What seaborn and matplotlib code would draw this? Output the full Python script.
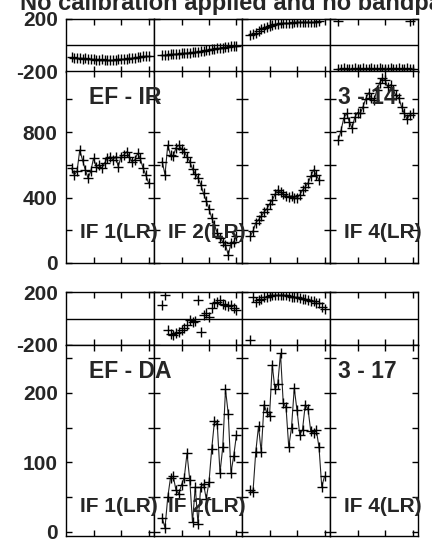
# baseline (no calibration) amplitude / phase per IF, two baselines
import matplotlib
matplotlib.use("Agg")
import matplotlib.pyplot as plt
import seaborn as sns

# ---- EF - IR ----
ir_if1_ch = list(range(2, 31))
ir_if1_amp = [580, 540, 560, 690, 630, 570, 520, 560, 640, 590, 600, 580, 610, 640, 650,
              630, 650, 590, 650, 660, 680, 650, 620, 630, 670, 640, 580, 540, 490]
ir_if1_pha = [-93, -97, -95, -100, -104, -101, -106, -108, -105, -110, -112, -109, -113, -111, -114,
              -110, -112, -108, -107, -104, -105, -100, -98, -95, -93, -90, -86, -84, -80]

ir_if2_ch = list(range(3, 31))
ir_if2_amp = [620, 540, 720, 660, 655, 705, 720, 700, 680, 650, 620, 575, 545, 520,
              480, 425, 380, 330, 275, 230, 185, 155, 130, 110, 50, 120, 130, 165]
ir_if2_pha = [-76, -74, -73, -70, -68, -66, -65, -63, -62, -60, -57, -55, -52, -50,
              -47, -44, -40, -37, -33, -30, -26, -22, -19, -15, -12, -9, -6, -4]

ir_if3_ch = list(range(3, 29))
ir_if3_amp = [165, 195, 245, 265, 285, 312, 330, 360, 385, 420, 446, 434, 420,
              410, 404, 410, 398, 398, 416, 446, 465, 489, 530, 569, 538, 508]
ir_if3_pha = [75, 85, 93, 105, 118, 128, 138, 145, 152, 158, 160, 163, 165,
              166, 168, 168, 170, 171, 172, 172, 174, 175, 175, 176, 177, 178]

ir_if4_ch = list(range(3, 31))
ir_if4_amp = [750, 810, 885, 915, 865, 825, 890, 920, 915, 955, 1005, 1040, 1010, 995,
              1055, 1100, 1130, 1120, 1075, 1090, 1055, 1025, 1010, 955, 915, 880, 905, 915]
ir_if4_pha = [-178, -179, -177, -178, -180, -178, -177, -179, -178, -176, -178, -179, -177, -178,
              -179, -177, -178, -180, -178, -177, -179, -178, -176, -178, -179, -177, -178, -179]
ir_if4_wrap_ch = [3, 29]
ir_if4_wrap_pha = [178, 179]

# ---- EF - DA ----
da_if2_ch = list(range(3, 31))
da_if2_amp = [20, 6, 50, 78, 80, 60, 55, 68, 78, 113, 75, 14, 65, 12,
              65, 69, 48, 72, 120, 160, 155, 85, 122, 205, 170, 85, 110, 140]
da_if2_pha = [105, 175, -90, -115, -125, -110, -100, -88, -75, -50, -15, -30, -20, 140,
              -100, 30, 40, 10, 80, 115, 125, 140, 110, 100, 95, 105, 80, 65]

da_if3_ch = list(range(3, 31))
da_if3_amp = [60, 58, 115, 152, 115, 183, 172, 167, 240, 205, 213, 257, 185, 180,
              122, 150, 207, 175, 140, 147, 183, 177, 145, 142, 147, 122, 65, 80]
da_if3_pha = [-165, 165, 125, 140, 150, 160, 165, 170, 175, 178, 180, 178, 176, 175,
              170, 165, 160, 160, 155, 150, 145, 140, 135, 130, 120, 115, 90, 70]

if_labels = ["IF 1(LR)", "IF 2(LR)", None, "IF 4(LR)"]
title = "No calibration applied and no bandpass"

sns.set_style("ticks")
plt.rcParams["font.family"] = ["Liberation Sans", "DejaVu Sans"]
plt.rcParams["font.weight"] = "bold"
plt.rcParams["axes.unicode_minus"] = False

W, H = 432, 547
fig = plt.figure(figsize=(W / 100, H / 100), dpi=100)


def px_axes(x0, y0, w, h):
    return fig.add_axes([x0 / W, 1 - (y0 + h) / H, w / W, h / H])


def px_text(x, y, s, size=15, **kw):
    # x, y in pixels from the top-left corner
    fig.text(x / W, 1 - y / H, s, fontsize=size, fontweight="bold", **kw)


col_left = [66, 154, 242, 330]
col_w = 88

groups = [
    {"name": "EF - IR", "code": "3 - 14", "pha_y": (18.5, 53), "amp_y": (71.5, 191.5),
     "ylim": (0, 1171), "yticks": [0, 200, 400, 600, 800, 1000], "ylab": [0, 400, 800],
     "amp": [(ir_if1_ch, ir_if1_amp), (ir_if2_ch, ir_if2_amp), (ir_if3_ch, ir_if3_amp), (ir_if4_ch, ir_if4_amp)],
     "pha": [(ir_if1_ch, ir_if1_pha), (ir_if2_ch, ir_if2_pha), (ir_if3_ch, ir_if3_pha), (ir_if4_ch, ir_if4_pha)],
     "extra": {3: (ir_if4_wrap_ch, ir_if4_wrap_pha)}},
    {"name": "EF - DA", "code": "3 - 17", "pha_y": (292, 53), "amp_y": (345, 191),
     "ylim": (-5.8, 269), "yticks": [0, 50, 100, 150, 200, 250], "ylab": [0, 100, 200],
     "amp": [None, (da_if2_ch, da_if2_amp), (da_if3_ch, da_if3_amp), None],
     "pha": [None, (da_if2_ch, da_if2_pha), (da_if3_ch, da_if3_pha), None],
     "extra": {}},
]


def style(ax, first):
    ax.set_xlim(0, 32)
    ax.set_xticks([10, 20, 30])
    ax.tick_params(direction="in", top=True, right=True, length=4, width=1,
                   labelbottom=False, labelleft=first, labelsize=15, pad=6, color="black")
    for sp in ax.spines.values():
        sp.set_linewidth(1)
        sp.set_color("black")
    ax.set_xlabel("")
    ax.set_ylabel("")
    for lab in ax.get_yticklabels():
        lab.set_fontweight("bold")


for g in groups:
    for c in range(4):
        # phase panel
        ax = px_axes(col_left[c], g["pha_y"][0], col_w, g["pha_y"][1])
        ax.axhline(0, color="black", lw=1)
        if g["pha"][c] is not None:
            ch, ph = g["pha"][c]
            sns.scatterplot(x=ch, y=ph, ax=ax, marker="+", color="black", s=45, linewidth=1)
        if c in g["extra"]:
            ch, ph = g["extra"][c]
            sns.scatterplot(x=ch, y=ph, ax=ax, marker="+", color="black", s=45, linewidth=1)
        ax.set_ylim(-200, 200)
        ax.set_yticks([-200, 200])
        style(ax, c == 0)

        # amplitude panel
        ax = px_axes(col_left[c], g["amp_y"][0], col_w, g["amp_y"][1])
        if g["amp"][c] is not None:
            ch, am = g["amp"][c]
            sns.lineplot(x=ch, y=am, ax=ax, color="#222222", linewidth=0.8, marker="+",
                         markersize=7, markeredgewidth=1, markeredgecolor="black", legend=False)
        ax.set_ylim(*g["ylim"])
        ax.set_yticks(g["yticks"])
        ax.set_yticklabels([str(t) if t in g["ylab"] else "" for t in g["yticks"]])
        style(ax, c == 0)

# labels on top of every panel
for g in groups:
    top = g["amp_y"][0]
    bottom = g["amp_y"][0] + g["amp_y"][1]
    px_text(89, top + 26, g["name"], size=16.5, va="center", ha="left")
    px_text(col_left[3] + 8, top + 26, g["code"], size=16.5, va="center", ha="left")
    for c in range(4):
        if if_labels[c]:
            px_text(col_left[c] + 14, bottom - 30, if_labels[c], va="center", ha="left")

fig.text(20 / W, 1 - 10 / H, title, fontsize=17.0, fontweight="bold", ha="left", va="baseline")

fig.savefig("out.png", dpi=100)
